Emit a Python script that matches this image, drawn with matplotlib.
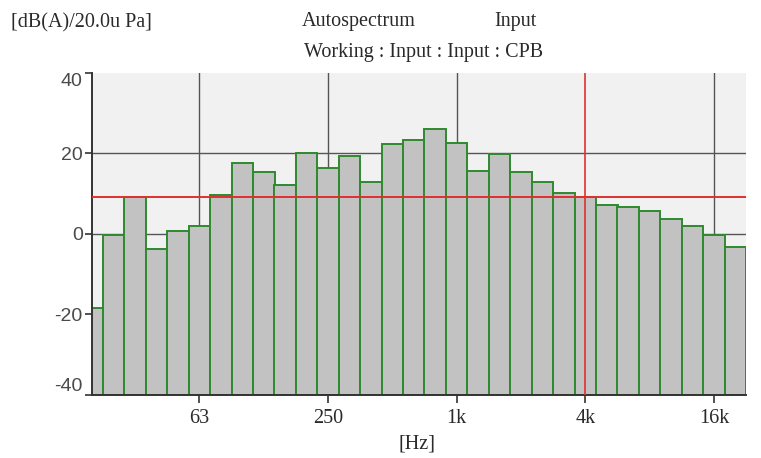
import numpy as np
import matplotlib
matplotlib.use('Agg')
import matplotlib.pyplot as plt

# 1/3 octave band centres (Hz) and levels dB(A)
bandas = [20, 25, 31.5, 40, 50, 63, 80, 100, 125, 160, 200, 250, 315, 400, 500,
          630, 800, 1000, 1250, 1600, 2000, 2500, 3150, 4000, 5000, 6300, 8000,
          10000, 12500, 16000, 20000]
niveis = [-18.4, -0.3, 9.3, -3.8, 0.8, 2.1, 9.8, 17.6, 15.5, 12.1, 20.0, 16.3, 19.3,
          12.8, 22.3, 23.4, 26.2, 22.7, 15.7, 19.8, 15.3, 12.8, 10.2, 9.3, 7.2, 6.8,
          5.8, 3.7, 2.1, -0.2, -3.2]
ticks_hz = [63, 250, 1000, 4000, 16000]
ticks_txt = ['63', '250', '1k', '4k', '16k']
cursor_x = 4000
cursor_y = 9.3

serif = 'Liberation Serif'
cor_txt = '#2a2a2a'

fig = plt.figure(figsize=(7.61, 4.58), dpi=100)
ax = fig.add_axes([0.1215, 0.1376, 0.859, 0.703])
ax.set_facecolor('#f1f1f1')

# bandas exatas (base 10) para posicionar as barras
n = np.round(10 * np.log10(np.array(bandas, dtype=float)))
centros = 10 ** (n / 10)
esq = centros * 2 ** (-1 / 6)
dir_ = centros * 2 ** (1 / 6)
base = -40
ax.bar(esq, np.array(niveis) - base, width=dir_ - esq, bottom=base, align='edge',
       color='#c2c2c2', edgecolor='#2e8a2e', linewidth=1.4, zorder=2)

ax.set_xscale('log')
ax.set_xlim(20, 22400)
ax.set_ylim(-40, 40)

# grade
pos_ticks = [10 ** (round(10 * np.log10(t)) / 10) for t in ticks_hz]
for p, t in zip(pos_ticks, ticks_hz):
    if t != cursor_x:
        ax.axvline(p, color='#555555', lw=1, zorder=1)
for yv in [20, 0, -20]:
    ax.axhline(yv, color='#555555', lw=1, zorder=1)

# cursores vermelhos
ax.axvline(10 ** (round(10 * np.log10(cursor_x)) / 10), color='#e03030', lw=1.2, zorder=3)
ax.axhline(cursor_y, color='#e03030', lw=1.4, zorder=3)

ax.set_xticks(pos_ticks)
ax.set_xticklabels(ticks_txt, family=serif, fontsize=14.5, color=cor_txt)
ax.xaxis.set_minor_locator(matplotlib.ticker.NullLocator())
ax.tick_params(axis='x', length=6, width=1.2, color='#333333', pad=4)
for tl, t in zip(ax.xaxis.get_major_ticks(), ticks_hz):
    if t == cursor_x:
        tl.tick1line.set_color('#e03030')

ax.set_yticks([40, 20, 0, -20, -40])
ax.set_yticklabels(['40', '20', '0', '-20', '-40'], family='Liberation Sans',
                   fontsize=14, color='#4a4a4a')
ax.tick_params(axis='y', length=5, width=1.2, color='#333333', pad=2)
ylabs = ax.get_yticklabels()
ylabs[0].set_va('top')
ylabs[-1].set_va('bottom')

for s in ['top', 'right']:
    ax.spines[s].set_visible(False)
for s in ['left', 'bottom']:
    ax.spines[s].set_color('#333333')
    ax.spines[s].set_linewidth(1.4)

fig.text(0.014, 0.95, '[dB(A)/20.0u Pa]', family=serif, fontsize=14.5,
         va='center', color=cor_txt)
fig.text(0.396, 0.952, 'Autospectrum', family=serif, fontsize=14.5,
         va='center', color=cor_txt)
fig.text(0.65, 0.952, 'Input', family=serif, fontsize=14.5, va='center', color=cor_txt)
fig.text(0.557, 0.885, 'Working : Input : Input : CPB', family=serif, fontsize=14.5,
         va='center', ha='center', color=cor_txt)
fig.text(0.548, 0.03, '[Hz]', family=serif, fontsize=14.5, va='center', ha='center',
         color=cor_txt)

plt.savefig('out.png', dpi=100)
